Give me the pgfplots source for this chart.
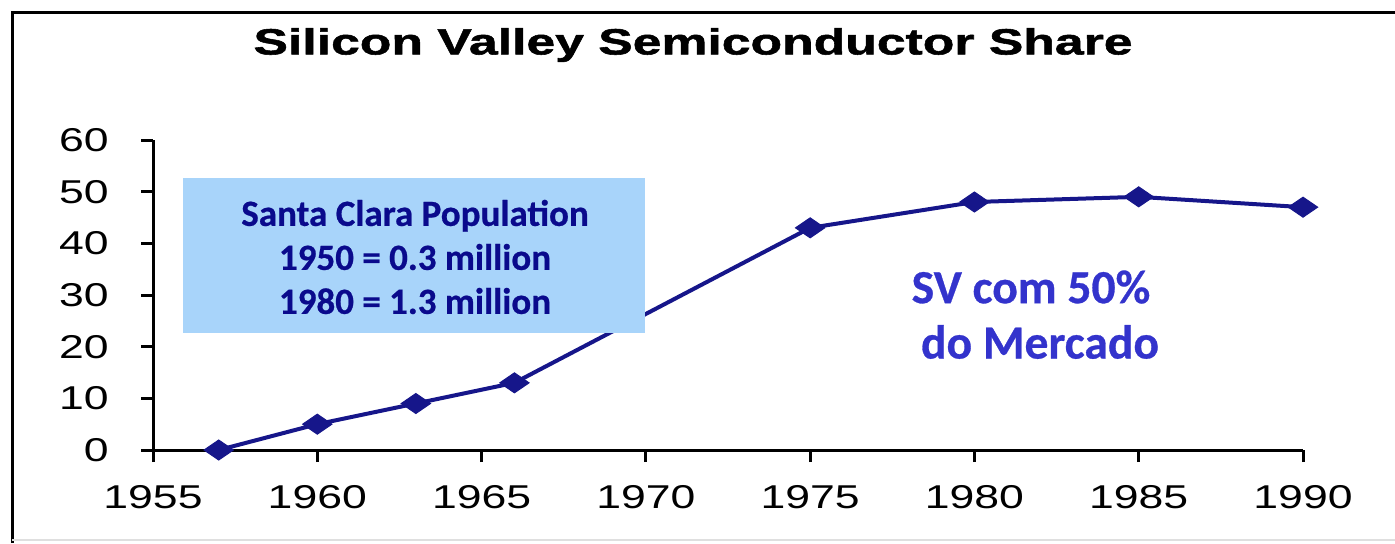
\documentclass[border=0pt]{standalone}
\usepackage{fontspec}
\usepackage{pgfplots}
\pgfplotsset{compat=1.18}
\setmainfont{Liberation Sans}
\newfontfamily\tickfont[FakeStretch=1.35]{Liberation Sans}
\newfontfamily\titlefont[FakeStretch=1.42, FakeBold=1.5]{Liberation Sans}
\newfontfamily\calibri[FakeBold=0.6]{Carlito}

\definecolor{navyline}{RGB}{22,22,138}
\definecolor{boxblue}{RGB}{168,212,250}
\definecolor{boxtext}{RGB}{10,10,140}
\definecolor{svblue}{RGB}{51,51,204}

\begin{document}
\begin{tikzpicture}
\useasboundingbox (0,0) rectangle (697.5pt,271.5pt);
% outer frame
\draw[line width=1.5pt] (6pt,0) -- (6pt,265.5pt) -- (697.5pt,265.5pt);
\draw[gray!25, line width=1pt] (6pt,1.5pt) -- (697.5pt,1.5pt);

\node[font=\titlefont\bfseries\fontsize{18.2}{22}\selectfont] at (346.5pt,249pt)
  {Silicon Valley Semiconductor Share};

\begin{axis}[
    at={(76.5pt,46.5pt)}, anchor=south west,
    scale only axis,
    width=575pt, height=155pt,
    xmin=1955, xmax=1990,
    ymin=0, ymax=60,
    axis x line*=bottom,
    axis y line*=left,
    axis line style={line width=1.5pt, -},
    xtick={1955,1960,...,1990},
    ytick={0,10,...,60},
    tick align=outside,
    major tick length=6pt,
    tick style={line width=1.5pt, black},
    ticklabel style={font=\tickfont\fontsize{16.5}{19}\selectfont},
    yticklabel style={anchor=east, inner sep=0pt, xshift=-16pt},
    xticklabel style={anchor=north, inner sep=0pt, yshift=-11.5pt},
    /pgf/number format/assume math mode=true,
    /pgf/number format/1000 sep={},
    clip=false,
]
\addplot[navyline, line width=2pt, mark=diamond*, mark size=5pt,
    mark options={xscale=1.95, fill=navyline, draw=navyline, line width=0.5pt}]
  coordinates {
    (1957,0) (1960,5) (1963,9) (1966,13)
    (1975,43) (1980,48) (1985,49) (1990,47)
  };
\end{axis}

% population box
\fill[boxblue] (91.5pt,105pt) rectangle (322.5pt,182.5pt);
\node[font=\calibri\bfseries\fontsize{18.5}{22}\selectfont, text=boxtext, align=center]
  at (207.5pt,143pt) {Santa Clara Population\\1950 = 0.3 million\\1980 = 1.3 million};

\node[font=\calibri\bfseries\fontsize{23.8}{28}\selectfont, text=svblue] at (515.5pt,128pt) {SV com 50\%};
\node[font=\calibri\bfseries\fontsize{23.8}{28}\selectfont, text=svblue] at (520pt,100.5pt) {do Mercado};
\end{tikzpicture}
\end{document}
